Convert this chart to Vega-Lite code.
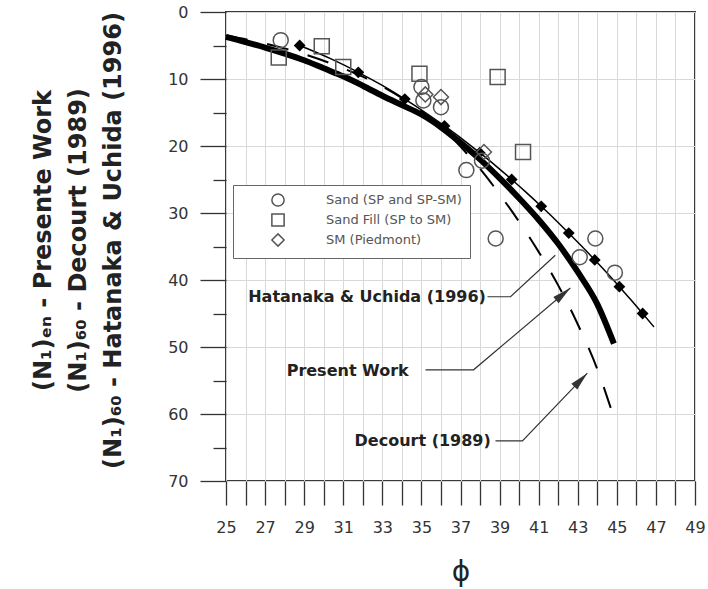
{
  "$schema": "https://vega.github.io/schema/vega-lite/v6.json",
  "autosize": "none",
  "width": 469,
  "height": 469,
  "padding": {"left": 226, "top": 12, "right": 13, "bottom": 108},
  "background": "white",
  "config": {"view": {"stroke": "#3a3a3a", "strokeWidth": 2}, "font": "DejaVu Sans"},
  "datasets": {
    "pw": [
      {"phi": 25, "N": 3.7}, {"phi": 26, "N": 4.5}, {"phi": 27, "N": 5.3}, {"phi": 28, "N": 6.2},
      {"phi": 29, "N": 7.2}, {"phi": 30, "N": 8.4}, {"phi": 31, "N": 9.6}, {"phi": 32, "N": 11.0},
      {"phi": 33, "N": 12.5}, {"phi": 34, "N": 13.9}, {"phi": 35, "N": 15.3}, {"phi": 36, "N": 17.2},
      {"phi": 37, "N": 19.5}, {"phi": 38, "N": 22.0}, {"phi": 39, "N": 24.8}, {"phi": 40, "N": 27.8},
      {"phi": 41, "N": 31.0}, {"phi": 42, "N": 34.6}, {"phi": 43, "N": 38.8}, {"phi": 44, "N": 43.6},
      {"phi": 44.85, "N": 49.5}
    ],
    "dec": [
      {"phi": 25, "N": 3.5}, {"phi": 27, "N": 4.7}, {"phi": 29, "N": 6.3}, {"phi": 31, "N": 8.4},
      {"phi": 33, "N": 11.1}, {"phi": 35, "N": 14.8}, {"phi": 36, "N": 17.1}, {"phi": 37, "N": 20.1},
      {"phi": 38, "N": 23.4}, {"phi": 39, "N": 27.2}, {"phi": 40, "N": 31.3}, {"phi": 41, "N": 35.8},
      {"phi": 42, "N": 40.8}, {"phi": 43, "N": 46.6}, {"phi": 44, "N": 53.3}, {"phi": 44.9, "N": 61.0}
    ],
    "hul": [
      {"phi": 28.77, "N": 5}, {"phi": 30.38, "N": 7}, {"phi": 31.77, "N": 9}, {"phi": 33.02, "N": 11},
      {"phi": 34.15, "N": 13}, {"phi": 35.2, "N": 15}, {"phi": 36.18, "N": 17}, {"phi": 37.11, "N": 19},
      {"phi": 37.98, "N": 21}, {"phi": 38.82, "N": 23}, {"phi": 39.62, "N": 25}, {"phi": 40.39, "N": 27},
      {"phi": 41.13, "N": 29}, {"phi": 41.85, "N": 31}, {"phi": 42.54, "N": 33}, {"phi": 43.22, "N": 35},
      {"phi": 43.87, "N": 37}, {"phi": 44.51, "N": 39}, {"phi": 45.13, "N": 41}, {"phi": 45.73, "N": 43},
      {"phi": 46.32, "N": 45}, {"phi": 46.9, "N": 47}
    ],
    "hup": [
      {"phi": 28.77, "N": 5}, {"phi": 31.77, "N": 9}, {"phi": 34.15, "N": 13}, {"phi": 36.18, "N": 17},
      {"phi": 37.98, "N": 21}, {"phi": 39.62, "N": 25}, {"phi": 41.13, "N": 29}, {"phi": 42.54, "N": 33},
      {"phi": 43.87, "N": 37}, {"phi": 45.13, "N": 41}, {"phi": 46.32, "N": 45}
    ],
    "obs": [
      {"soil": "Sand (SP and SP-SM)", "phi": 27.8, "N": 4.2},
      {"soil": "Sand (SP and SP-SM)", "phi": 35.0, "N": 11.2},
      {"soil": "Sand (SP and SP-SM)", "phi": 35.1, "N": 13.2},
      {"soil": "Sand (SP and SP-SM)", "phi": 36.0, "N": 14.2},
      {"soil": "Sand (SP and SP-SM)", "phi": 37.3, "N": 23.6},
      {"soil": "Sand (SP and SP-SM)", "phi": 38.1, "N": 22.2},
      {"soil": "Sand (SP and SP-SM)", "phi": 38.8, "N": 33.8},
      {"soil": "Sand (SP and SP-SM)", "phi": 43.9, "N": 33.8},
      {"soil": "Sand (SP and SP-SM)", "phi": 43.1, "N": 36.6},
      {"soil": "Sand (SP and SP-SM)", "phi": 44.9, "N": 38.9},
      {"soil": "Sand Fill (SP to SM)", "phi": 27.7, "N": 6.8},
      {"soil": "Sand Fill (SP to SM)", "phi": 29.9, "N": 5.1},
      {"soil": "Sand Fill (SP to SM)", "phi": 31.0, "N": 8.2},
      {"soil": "Sand Fill (SP to SM)", "phi": 34.9, "N": 9.2},
      {"soil": "Sand Fill (SP to SM)", "phi": 38.9, "N": 9.7},
      {"soil": "Sand Fill (SP to SM)", "phi": 40.2, "N": 20.9},
      {"soil": "SM (Piedmont)", "phi": 35.2, "N": 12.3},
      {"soil": "SM (Piedmont)", "phi": 36.0, "N": 12.7},
      {"soil": "SM (Piedmont)", "phi": 38.2, "N": 20.9}
    ],
    "lead": [
      {"g": "hu", "o": 1, "phi": 38.38, "N": 42.5}, {"g": "hu", "o": 2, "phi": 39.56, "N": 42.5}, {"g": "hu", "o": 3, "phi": 41.85, "N": 36.3},
      {"g": "pw", "o": 1, "phi": 35.21, "N": 53.4}, {"g": "pw", "o": 2, "phi": 37.67, "N": 53.4}, {"g": "pw", "o": 3, "phi": 42.62, "N": 41.2},
      {"g": "dec", "o": 1, "phi": 38.79, "N": 64.0}, {"g": "dec", "o": 2, "phi": 40.17, "N": 64.0}, {"g": "dec", "o": 3, "phi": 43.49, "N": 53.9}
    ],
    "arr": [
      {"g": "pw", "phi": 42.62, "N": 41.2},
      {"g": "dec", "phi": 43.49, "N": 53.9}
    ],
    "lab": [
      {"label": "Hatanaka & Uchida (1996)", "phi": 38.3, "N": 42.5},
      {"label": "Present Work", "phi": 34.35, "N": 53.6},
      {"label": "Decourt (1989)", "phi": 38.55, "N": 64.1}
    ]
  },
  "encoding": {
    "x": {
      "field": "phi", "type": "quantitative",
      "scale": {"domain": [25, 49], "nice": false, "zero": false},
      "axis": {
        "orient": "bottom",
        "values": [25,25.5,26,26.5,27,27.5,28,28.5,29,29.5,30,30.5,31,31.5,32,32.5,33,33.5,34,34.5,35,35.5,36,36.5,37,37.5,38,38.5,39,39.5,40,40.5,41,41.5,42,42.5,43,43.5,44,44.5,45,45.5,46,46.5,47,47.5,48,48.5,49],
        "format": "d",
        "labelExpr": "datum.value % 2 == 1 ? datum.label : ''",
        "tickSize": {"condition": {"test": "datum.value % 1 == 0", "value": 24}, "value": 11},
        "tickColor": {"condition": {"test": "datum.value % 1 == 0", "value": "#333"}, "value": "#999"},
        "tickWidth": 1.3,
        "grid": true,
        "gridColor": "#d8d8d8",
        "gridOpacity": {"condition": {"test": "datum.value % 1 == 0", "value": 1}, "value": 0},
        "domain": false,
        "labelFont": "DejaVu Sans", "labelFontSize": 16, "labelColor": "#333",
        "labelPadding": 14, "labelOverlap": false, "labelFlush": false, "labelBound": false,
        "title": "ϕ", "titleFont": "DejaVu Sans", "titleFontSize": 28, "titleFontWeight": "normal",
        "titleColor": "#222", "titleY": 91, "titleBaseline": "middle"
      }
    },
    "y": {
      "field": "N", "type": "quantitative",
      "scale": {"domain": [0, 70], "reverse": true, "nice": false, "zero": false},
      "axis": {
        "orient": "left",
        "values": [0,5,10,15,20,25,30,35,40,45,50,55,60,65,70],
        "labelExpr": "datum.value % 10 == 0 ? datum.label : ''",
        "tickSize": {"condition": {"test": "datum.value % 10 == 0", "value": 26}, "value": 13},
        "tickColor": "#333",
        "tickWidth": 1.3,
        "grid": true,
        "gridColor": "#d8d8d8",
        "gridOpacity": {"condition": {"test": "datum.value % 10 == 0", "value": 1}, "value": 0},
        "domain": false,
        "labelFont": "DejaVu Sans", "labelFontSize": 16, "labelColor": "#333",
        "labelPadding": 12, "labelOverlap": false, "labelFlush": false, "labelBound": false,
        "title": ["(N₁)ₑₙ - Presente Work", "(N₁)₆₀ - Decourt (1989)", "(N₁)₆₀ - Hatanaka & Uchida (1996)"],
        "titleFont": "DejaVu Sans", "titleFontSize": 24, "titleFontWeight": "bold", "titleColor": "#222",
        "titleAngle": -90, "titleX": -183, "titleY": 228, "titleAlign": "center", "titleBaseline": "middle",
        "titleLineHeight": 35
      }
    }
  },
  "layer": [
    {"data": {"name": "dec"}, "mark": {"type": "line", "color": "black", "strokeWidth": 2, "strokeDash": [22, 20], "interpolate": "monotone"}},
    {"data": {"name": "hul"}, "mark": {"type": "line", "color": "black", "strokeWidth": 1.5, "interpolate": "monotone"}},
    {"data": {"name": "pw"}, "mark": {"type": "line", "color": "black", "strokeWidth": 6, "interpolate": "monotone"}},
    {"data": {"name": "hup"}, "mark": {"type": "point", "shape": "diamond", "filled": true, "color": "black", "size": 140, "opacity": 1}},
    {
      "data": {"name": "obs"},
      "mark": {"type": "point", "filled": false, "color": "#555", "strokeWidth": 1.5, "size": 225, "opacity": 1},
      "encoding": {
        "shape": {
          "field": "soil", "type": "nominal",
          "scale": {"domain": ["Sand (SP and SP-SM)", "Sand Fill (SP to SM)", "SM (Piedmont)"], "range": ["circle", "square", "diamond"]},
          "legend": {
            "orient": "none", "legendX": 7, "legendY": 173, "title": null,
            "strokeColor": "#666", "fillColor": "white", "padding": 8,
            "symbolOffset": 30, "labelOffset": 41, "symbolSize": 150, "symbolStrokeWidth": 1.5,
            "symbolStrokeColor": "#555", "symbolFillColor": "transparent",
            "labelFont": "DejaVu Sans", "labelFontSize": 13, "labelColor": "#555", "rowPadding": 0
          }
        }
      }
    },
    {"data": {"name": "lead"}, "mark": {"type": "line", "color": "#333", "strokeWidth": 1.2}, "encoding": {"detail": {"field": "g"}, "order": {"field": "o"}}},
    {"data": {"name": "arr"}, "transform": [{"filter": "datum.g == 'pw'"}], "mark": {"type": "point", "shape": "M0,0L-0.35,1.6L0.35,1.6Z", "filled": true, "color": "#333", "size": 550, "angle": 50, "opacity": 1}},
    {"data": {"name": "arr"}, "transform": [{"filter": "datum.g == 'dec'"}], "mark": {"type": "point", "shape": "M0,0L-0.35,1.6L0.35,1.6Z", "filled": true, "color": "#333", "size": 550, "angle": 44, "opacity": 1}},
    {"data": {"name": "lab"}, "mark": {"type": "text", "align": "right", "baseline": "middle", "font": "DejaVu Sans", "fontWeight": "bold", "fontSize": 16, "color": "#222"}, "encoding": {"text": {"field": "label"}}}
  ]
}
